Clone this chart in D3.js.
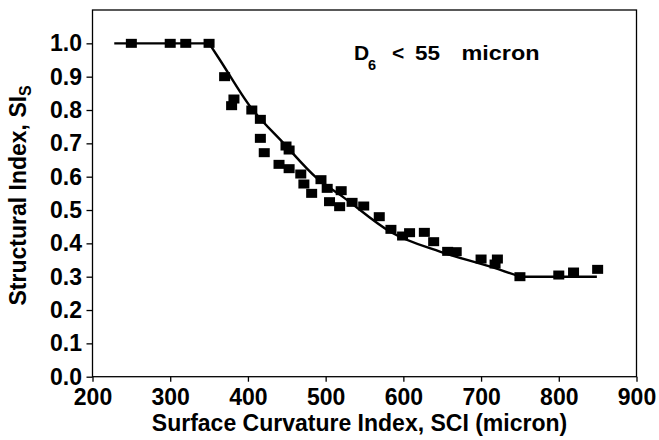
<!DOCTYPE html>
<html>
<head>
<meta charset="utf-8">
<script src="https://cdn.jsdelivr.net/npm/d3@7"></script>
<style>
  html, body { margin: 0; padding: 0; background: #fff; }
  svg { display: block; font-family: "Liberation Sans", Arial, Helvetica, sans-serif; }
</style>
</head>
<body>
<svg id="chart"></svg>
<script>
// measured points: surface curvature index (micron) vs structural index
const sciValues = [250, 300, 320, 350, 370, 382, 379, 405, 416, 416, 421,
  449, 453, 440, 453, 468, 472, 482, 494, 502, 505, 518, 520,
  534, 549, 569, 584, 599, 608, 627, 639, 657, 668, 700, 718, 721,
  750, 800, 819, 850];
const siValues = [1.0, 1.0, 1.0, 1.0, 0.90, 0.833, 0.813, 0.80, 0.772, 0.715, 0.672,
  0.692, 0.68, 0.637, 0.624, 0.608, 0.578, 0.55, 0.591, 0.565, 0.525, 0.51, 0.558,
  0.523, 0.512, 0.48, 0.442, 0.422, 0.432, 0.433, 0.405, 0.376, 0.375, 0.353, 0.338, 0.353,
  0.30, 0.305, 0.314, 0.322];

// fitted curve
const fitSci = [228, 350, 364, 403, 446, 489, 523, 583, 647, 712, 750, 849];
const fitSi = [1.0, 1.0, 0.95, 0.81, 0.70, 0.595, 0.538, 0.435, 0.375, 0.33, 0.30, 0.30];

const xTicks = [200, 300, 400, 500, 600, 700, 800, 900];
const yTicks = [0, 0.1, 0.2, 0.3, 0.4, 0.5, 0.6, 0.7, 0.8, 0.9, 1.0];

const width = 659;
const height = 440;
const margin = { top: 10, right: 22.5, bottom: 63.3, left: 92.5 };

const svg = d3.select("#chart")
  .attr("width", width)
  .attr("height", height);

const x = d3.scaleLinear()
  .domain([200, 900])
  .range([margin.left, width - margin.right]);

const y = d3.scaleLinear()
  .domain([0, 1.1])
  .range([height - margin.bottom, margin.top]);

const points = sciValues.map((d, i) => ({ x: d, y: siValues[i] }));
const fit = fitSci.map((d, i) => ({ x: d, y: fitSi[i] }));

// axes
const xAxis = svg.append("g")
  .attr("transform", `translate(0,${y(0)})`)
  .call(d3.axisBottom(x).tickValues(xTicks).tickSize(5).tickSizeOuter(0).tickPadding(6.5));

const yAxis = svg.append("g")
  .attr("transform", `translate(${x(200)},0)`)
  .call(d3.axisLeft(y).tickValues(yTicks).tickFormat(d3.format(".1f")).tickSize(6).tickSizeOuter(0).tickPadding(4.5));

[xAxis, yAxis].forEach((g) => {
  g.select(".domain").remove();
  g.selectAll(".tick line").attr("stroke", "#000").attr("stroke-width", 1.3);
  g.selectAll(".tick text")
    .attr("fill", "#000")
    .attr("font-size", 23)
    .attr("font-weight", "bold");
});

// frame
svg.append("rect")
  .attr("x", x(200))
  .attr("y", y(1.1))
  .attr("width", x(900) - x(200))
  .attr("height", y(0) - y(1.1))
  .attr("fill", "none")
  .attr("stroke", "#000")
  .attr("stroke-width", 1.3);

// fitted line: straight plateaus, smooth decay between them
const straight = d3.line().x((d) => x(d.x)).y((d) => y(d.y));
const smooth = d3.line().x((d) => x(d.x)).y((d) => y(d.y)).curve(d3.curveMonotoneX);

svg.append("path")
  .attr("d", straight(fit.slice(0, 2)) + smooth(fit.slice(1, fit.length - 1)) + straight(fit.slice(fit.length - 2)))
  .attr("fill", "none")
  .attr("stroke", "#000")
  .attr("stroke-width", 2.4);

// markers
const mw = 11;
const mh = 9;
svg.append("g")
  .selectAll("rect")
  .data(points)
  .join("rect")
  .attr("x", (d) => x(d.x) - mw / 2)
  .attr("y", (d) => y(d.y) - mh / 2)
  .attr("width", mw)
  .attr("height", mh)
  .attr("fill", "#000");

// annotation
const note = svg.append("g")
  .attr("font-size", 21)
  .attr("font-weight", "bold")
  .attr("fill", "#000");
note.append("text").attr("x", 354).attr("y", 59.5).text("D");
note.append("text").attr("x", 368).attr("y", 69.5).attr("font-size", 14.5).text("6");
note.append("text").attr("x", 392).attr("y", 59.5).text("<");
note.append("text").attr("x", 415).attr("y", 59.5)
  .attr("textLength", 25).attr("lengthAdjust", "spacingAndGlyphs").text("55");
note.append("text").attr("x", 461.5).attr("y", 59.5)
  .attr("textLength", 78).attr("lengthAdjust", "spacingAndGlyphs").text("micron");

// axis titles
svg.append("text")
  .attr("x", (x(200) + x(900)) / 2 - 5)
  .attr("y", 431)
  .attr("text-anchor", "middle")
  .attr("font-size", 23)
  .attr("font-weight", "bold")
  .attr("fill", "#000")
  .text("Surface Curvature Index, SCI (micron)");

const yTitle = svg.append("text")
  .attr("transform", `translate(26,${(y(0) + y(1.1)) / 2 + 2}) rotate(-90)`)
  .attr("text-anchor", "middle")
  .attr("font-size", 23)
  .attr("font-weight", "bold")
  .attr("fill", "#000");
yTitle.append("tspan").text("Structural Index, SI");
yTitle.append("tspan").attr("font-size", 16).attr("dy", 5).text("S");
</script>
</body>
</html>
